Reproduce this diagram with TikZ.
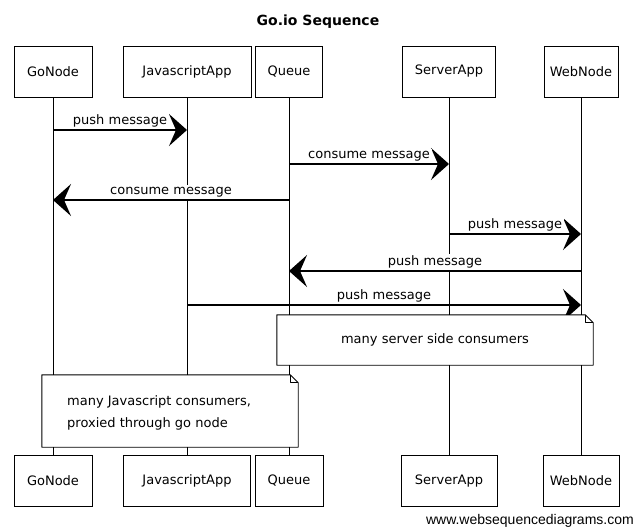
\documentclass[tikz,border=0pt]{standalone}
\usepackage{fontspec}
\setmainfont{DejaVu Sans}
\newfontfamily\wmfont{Liberation Sans}
\usetikzlibrary{arrows.meta,calc}
\tikzset{
  actor/.style={draw=black, line width=0.9pt, fill=white, minimum height=51pt, inner sep=0pt, font=\fontsize{13}{15}\selectfont},
  life/.style={line width=0.8pt},
  msg/.style={line width=1.4pt, -{Stealth[length=18pt,width=32pt,inset=7pt]}},
  lbl/.style={fill=white, inner sep=2pt, font=\fontsize{13}{15}\selectfont},
  notefill/.style={fill=white, inner sep=0pt},
  noteline/.style={draw=black, line width=0.9pt, line join=round},
}
\begin{document}
\begin{tikzpicture}[x=1pt,y=-1pt]
\useasboundingbox[fill=white] (0,0) rectangle (636,528);
% title
\node[font=\bfseries\fontsize{14}{16}\selectfont] (title) at (318,22) {Go.io Sequence};
% lifeline anchor points
\path (53,71.5) coordinate (GoTc) (53,481) coordinate (GoBc)
      (187,71.5) coordinate (JsTc) (187,481) coordinate (JsBc)
      (289,71.5) coordinate (QuTc) (289,481) coordinate (QuBc)
      (449,71.5) coordinate (SaTc) (449,481) coordinate (SaBc)
      (581,71.5) coordinate (WnTc) (581,481) coordinate (WnBc);
% lifelines (drawn first)
\draw[life] (GoTc) -- (GoBc);
\draw[life] (JsTc) -- (JsBc);
\draw[life] (QuTc) -- (QuBc);
\draw[life] (SaTc) -- (SaBc);
\draw[life] (WnTc) -- (WnBc);
% top boxes
\node[actor, minimum width=78pt] (GoT) at (GoTc) {GoNode};
\node[actor, minimum width=128pt] (JsT) at (JsTc) {JavascriptApp};
\node[actor, minimum width=67pt] (QuT) at (QuTc) {Queue};
\node[actor, minimum width=93pt] (SaT) at (SaTc) {ServerApp};
\node[actor, minimum width=74pt] (WnT) at (WnTc) {WebNode};
% bottom boxes
\node[actor, minimum width=78pt] (GoB) at (GoBc) {GoNode};
\node[actor, minimum width=127pt] (JsB) at (JsBc) {JavascriptApp};
\node[actor, minimum width=68pt] (QuB) at (QuBc) {Queue};
\node[actor, minimum width=96pt] (SaB) at (SaBc) {ServerApp};
\node[actor, minimum width=76pt] (WnB) at (WnBc) {WebNode};
% message end points
\coordinate (m1a) at (53,130);  \coordinate (m1b) at (187,130);
\coordinate (m2a) at (289,164); \coordinate (m2b) at (449,164);
\coordinate (m3a) at (289,200); \coordinate (m3b) at (53,200);
\coordinate (m4a) at (449,234); \coordinate (m4b) at (581,234);
\coordinate (m5a) at (581,271); \coordinate (m5b) at (289,271);
\coordinate (m6a) at (187,305); \coordinate (m6b) at (581,305);
% messages
\draw[msg] (m1a) -- (m1b) node[lbl, midway, above=0pt] (l1) {push message};
\draw[msg] (m2a) -- (m2b) node[lbl, midway, above=0pt] (l2) {consume message};
\draw[msg] (m3a) -- (m3b) node[lbl, midway, above=0pt] (l3) {consume message};
\draw[msg] (m4a) -- (m4b) node[lbl, midway, above=0pt] (l4) {push message};
\draw[msg] (m5a) -- (m5b) node[lbl, midway, above=0pt] (l5) {push message};
\draw[msg] (m6a) -- (m6b) node[lbl, midway, above=0pt] (l6) {push message};
% note 1
\node[notefill, minimum width=316pt, minimum height=50pt, font=\fontsize{13}{15}\selectfont] (n1) at (435,340) {many server side consumers};
\draw[noteline] (n1.north west) -- ($(n1.north east)+(-8pt,0pt)$) -- ($(n1.north east)+(0pt,-8pt)$) -- (n1.south east) -- (n1.south west) -- cycle;
\draw[noteline] ($(n1.north east)+(-8pt,0pt)$) -- ($(n1.north east)+(-8pt,-8pt)$) -- ($(n1.north east)+(0pt,-8pt)$);
% note 2
\node[notefill, minimum width=256pt, minimum height=72pt, text width=206pt, inner xsep=25pt, align=left, font=\fontsize{13}{21.5}\selectfont] (n2) at (170,411) {};
\node[anchor=west, align=left, inner sep=0pt, font=\fontsize{13}{21.5}\selectfont] (n2t) at (67,413) {many Javascript consumers,\\proxied through go node};
\draw[noteline] (n2.north west) -- ($(n2.north east)+(-8pt,0pt)$) -- ($(n2.north east)+(0pt,-8pt)$) -- (n2.south east) -- (n2.south west) -- cycle;
\draw[noteline] ($(n2.north east)+(-8pt,0pt)$) -- ($(n2.north east)+(-8pt,-8pt)$) -- ($(n2.north east)+(0pt,-8pt)$);
% watermark
\node[font=\wmfont\fontsize{14}{16}\selectfont, anchor=base east, inner sep=0pt] (wm) at (634,524) {www.websequencediagrams.com};
\end{tikzpicture}
\end{document}
